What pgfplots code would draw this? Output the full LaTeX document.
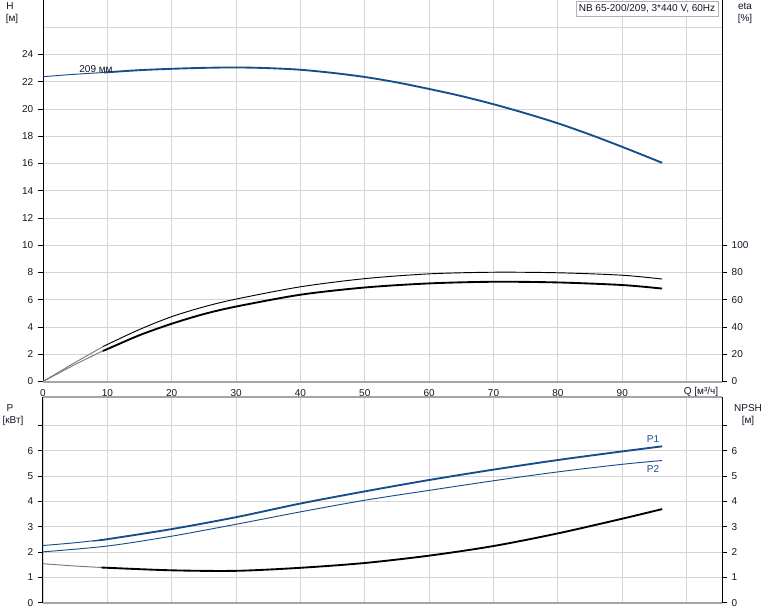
\documentclass[border=0pt]{standalone}
\usepackage{fontspec}
\setmainfont{Liberation Sans}
\usepackage{pgfplots}
\pgfplotsset{compat=1.18}
\definecolor{pblue}{RGB}{20,78,140}
\definecolor{gridc}{RGB}{212,212,212}
\definecolor{axgray}{RGB}{165,165,165}
\definecolor{txt}{RGB}{20,20,40}
\definecolor{thing}{RGB}{120,120,120}
\pgfplotsset{
  base/.style={scale only axis, width=509.25pt, xmin=0, xmax=105.5,
    xtick={0,10,...,100},
    axis line style={draw=none},
    tick style={black, line width=0.6pt},
    xtick style={draw=none},
    tick align=outside, major tick length=3.75pt,
    every tick label/.append style={font=\fontsize{7.5}{9}\selectfont, text=txt},
    /pgf/number format/assume math mode=true,
    clip=false},
  grd/.style={grid=major, major grid style={gridc, line width=0.7pt}},
  thk/.style={line width=1.4pt, smooth},
  thn/.style={line width=0.7pt, smooth},
}
\begin{document}
\begin{tikzpicture}
\useasboundingbox (0,0) rectangle (580.5pt,458.25pt);
% ---------- top panel: H and eta ----------
\begin{axis}[base, grd, at={(32.25pt,172.125pt)}, anchor=south west,
  height=286.125pt, ymin=0, ymax=28,
  ytick={0,2,...,24}, extra y ticks={26}, extra y tick labels={},
  extra y tick style={major tick length=0pt},
  ytick pos=left,
  xticklabels={0,10,20,30,40,50,60,70,80,90,{}},
  xticklabel style={yshift=1pt}]
\draw[black, line width=0.75pt] (rel axis cs:0,0) -- (rel axis cs:0,1);
\draw[black, line width=0.75pt] (rel axis cs:1,0) -- (rel axis cs:1,1);
% H curve
\addplot[pblue, thn] coordinates {(0,22.37)(5,22.55)(9.5,22.68)};
\addplot[pblue, thk] coordinates {(9.5,22.68)(15,22.85)(20,22.95)(25,23.02)(30,23.05)(35,23.0)(40,22.88)(45,22.65)(50,22.35)(55,21.95)(60,21.47)(65,20.95)(70,20.35)(75,19.68)(80,18.95)(85,18.12)(90,17.22)(96.2,16.05)};
% eta curves (plotted on H scale: eta/10)
\addplot[thing, thn] coordinates {(0,0)(5,1.4)(9.3,2.55)};
\addplot[black, thn] coordinates {(9.3,2.55)(10,2.72)(15,3.82)(20,4.76)(25,5.48)(30,6.05)(40,6.95)(50,7.55)(60,7.9)(70,8.02)(80,7.98)(90,7.8)(96.2,7.52)};
\addplot[thing, thn] coordinates {(0,0)(5,1.25)(9.3,2.25)};
\addplot[black, thk] coordinates {(9.3,2.25)(10,2.38)(15,3.4)(20,4.24)(25,4.95)(30,5.5)(40,6.37)(50,6.9)(60,7.2)(70,7.32)(80,7.27)(90,7.08)(96.2,6.82)};
\draw[axgray, line width=1.5pt] (rel axis cs:0,0) -- (rel axis cs:1,0);
\end{axis}
\begin{axis}[base, at={(32.25pt,172.125pt)}, anchor=south west,
  height=286.125pt, ymin=0, ymax=280,
  ytick={0,20,...,100}, ytick pos=right, xticklabels={},
  yticklabel style={anchor=west}]
\end{axis}
% ---------- bottom panel: P and NPSH ----------
\begin{axis}[base, grd, at={(32.25pt,6.225pt)}, anchor=south west,
  height=154.275pt, ymin=0, ymax=8.13,
  ytick={0,1,...,7}, yticklabels={0,1,2,3,4,5,6,{}},
  ytick pos=left, xticklabels={}]
\draw[black, line width=0.75pt] (rel axis cs:0,0) -- (rel axis cs:0,1);
\draw[black, line width=0.75pt] (rel axis cs:1,0) -- (rel axis cs:1,1);
% P1
\addplot[pblue, thn] coordinates {(0,2.26)(5,2.37)(9.2,2.49)};
\addplot[pblue, thk] coordinates {(9.2,2.49)(10,2.51)(20,2.91)(30,3.38)(40,3.92)(50,4.4)(60,4.85)(70,5.26)(80,5.64)(90,5.98)(96.2,6.18)};
% P2
\addplot[pblue, thn] coordinates {(0,2.01)(10,2.24)(20,2.63)(30,3.1)(40,3.59)(50,4.05)(60,4.44)(70,4.82)(80,5.17)(90,5.47)(96.2,5.62)};
% NPSH
\addplot[thing, thn] coordinates {(0,1.54)(5,1.45)(9.3,1.39)};
\addplot[black, thk] coordinates {(9.3,1.39)(10,1.38)(20,1.28)(30,1.26)(40,1.38)(50,1.57)(60,1.86)(70,2.24)(80,2.74)(90,3.32)(96.2,3.7)};
\draw[axgray, line width=1.5pt] (rel axis cs:0,0) -- (rel axis cs:1,0);
\draw[axgray, line width=1.5pt] (rel axis cs:0,1) -- (rel axis cs:1,1);
\end{axis}
\begin{axis}[base, at={(32.25pt,6.225pt)}, anchor=south west,
  height=154.275pt, ymin=0, ymax=8.13,
  ytick={0,1,...,7}, yticklabels={0,1,2,3,4,5,6,{}},
  ytick pos=right, xticklabels={}, yticklabel style={anchor=west}]
\end{axis}
% ---------- text (image pixel coordinates) ----------
\begin{scope}[x=0.75pt, y=-0.75pt, yshift=458.25pt,
  every node/.style={font=\fontsize{7.5}{9}\selectfont, text=txt, inner sep=0pt}]
\node at (10,6) {H};
\node at (12,19) {[м]};
\node at (745,6) {eta};
\node at (745,19) {[\%]};
\node at (10,408) {P};
\node at (13,421) {[кВт]};
\node at (748,408) {NPSH};
\node at (748,421) {[м]};
\node at (701,392) {Q [м³/ч]};
\node[draw=gray!60, fill=white, inner xsep=2pt, inner ysep=2.5pt] at (647,8.5) {NB 65-200/209, 3*440 V, 60Hz};
\node at (96,69) {209 мм};
\node[text=pblue] at (653,439) {P1};
\node[text=pblue] at (653,469) {P2};
\end{scope}
\end{tikzpicture}
\end{document}
